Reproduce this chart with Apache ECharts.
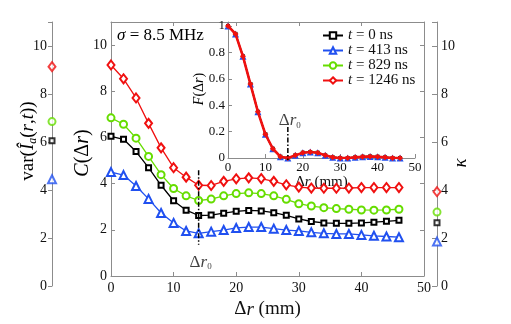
<!DOCTYPE html>
<html>
<head>
<meta charset="utf-8">
<script src="https://cdn.jsdelivr.net/npm/echarts@6/dist/echarts.min.js"></script>
<style>
html, body { margin: 0; padding: 0; background: #fff; }
#myChart { width: 511px; height: 324px; }
</style>
</head>
<body>
<div id="myChart"></div>
<script>
// separation (mm)
const dr = [0, 2, 4, 6, 8, 10, 12, 14, 16, 18, 20, 22, 24, 26, 28, 30, 32, 34, 36, 38, 40, 42, 44, 46];
const names = ['t = 0 ns', 't = 413 ns', 't = 829 ns', 't = 1246 ns'];
// C(dr) for each time
const c0 = [6.05, 5.92, 5.39, 4.69, 3.93, 3.26, 2.85, 2.62, 2.64, 2.72, 2.80, 2.84, 2.82, 2.74, 2.63, 2.47, 2.36, 2.30, 2.28, 2.28, 2.30, 2.33, 2.37, 2.41];
const c413 = [4.50, 4.37, 3.90, 3.34, 2.73, 2.30, 1.95, 1.85, 1.92, 1.99, 2.08, 2.12, 2.12, 2.05, 1.99, 1.95, 1.89, 1.85, 1.82, 1.82, 1.78, 1.74, 1.71, 1.68];
const c829 = [6.85, 6.57, 5.97, 5.18, 4.39, 3.79, 3.47, 3.27, 3.33, 3.47, 3.57, 3.60, 3.57, 3.47, 3.32, 3.13, 3.03, 2.96, 2.92, 2.89, 2.86, 2.85, 2.86, 2.89];
const c1246 = [9.14, 8.54, 7.71, 6.61, 5.55, 4.69, 4.28, 3.93, 3.92, 4.10, 4.21, 4.25, 4.22, 4.10, 3.95, 3.85, 3.81, 3.80, 3.80, 3.81, 3.83, 3.83, 3.83, 3.83];
// inset F(dr)
const f0 = [1.0, 0.94, 0.77, 0.56, 0.35, 0.18, 0.07, 0.01, 0.0, 0.02, 0.04, 0.045, 0.04, 0.02, 0.005, 0.0, 0.0, 0.005, 0.01, 0.012, 0.01, 0.005, 0.0, 0.0];
const f413 = [1.0, 0.94, 0.77, 0.56, 0.35, 0.18, 0.07, 0.01, 0.0, 0.02, 0.04, 0.045, 0.04, 0.02, 0.005, 0.0, 0.0, 0.005, 0.01, 0.012, 0.01, 0.005, 0.0, 0.0];
const f829 = [1.0, 0.94, 0.77, 0.56, 0.35, 0.18, 0.07, 0.01, 0.0, 0.02, 0.04, 0.045, 0.04, 0.02, 0.005, 0.0, 0.0, 0.005, 0.01, 0.012, 0.01, 0.005, 0.0, 0.0];
const f1246 = [1.0, 0.94, 0.77, 0.56, 0.35, 0.18, 0.07, 0.01, 0.0, 0.02, 0.04, 0.045, 0.04, 0.02, 0.005, 0.0, 0.0, 0.005, 0.01, 0.012, 0.01, 0.005, 0.0, 0.0];
// side axes: var(I) on the left, kappa on the right
const varI = [6.05, 4.45, 6.85, 9.14];
const kappa = [2.64, 1.85, 3.08, 3.93];
// dr0 markers
const r0Main = 14;
const r0MainSpan = [4.58, 1.35];
const r0Inset = 16;
const r0InsetSpan = [0.235, -0.015];

const colors = ['#000000', '#2050f0', '#66dd00', '#f01010'];
const mainData = [c0, c413, c829, c1246];
const insetData = [f0, f413, f829, f1246];
const emptySym = ['emptyRect', 'emptyTriangle', 'emptyCircle', 'emptyDiamond'];
const emptySize = [5, 8, 7, [7, 9]];
const fullSym = ['rect', 'triangle', 'circle', 'diamond'];
const fullSize = [4, 7, 4, 6];

const FONT = "'Liberation Serif', 'DejaVu Serif', serif";
const TXT = '#111';
const AX = '#8c8c8c';

let myChart = echarts.init(document.getElementById('myChart'));

function pairs(ys) { return dr.map((x, i) => [x, ys[i]]); }

const rich = {
  n: { fontFamily: FONT, color: TXT },
  i: { fontFamily: FONT, fontStyle: 'italic', color: TXT }
};
function sized(sz) {
  return { n: Object.assign({ fontSize: sz }, rich.n), i: Object.assign({ fontSize: sz }, rich.i) };
}

function axisBase(grid, extra) {
  return Object.assign({
    gridIndex: grid,
    type: 'value',
    axisLine: { show: true, onZero: false, lineStyle: { color: AX, width: 1 } },
    axisTick: { show: true, inside: true, length: 4, lineStyle: { color: AX } },
    splitLine: { show: false },
    axisLabel: { show: false }
  }, extra);
}

const series = [];
names.forEach((nm, k) => {
  series.push({
    name: nm, type: 'line', xAxisIndex: 0, yAxisIndex: 0,
    data: pairs(mainData[k]),
    symbol: emptySym[k], symbolSize: emptySize[k],
    itemStyle: { color: colors[k], borderWidth: 1.2 },
    lineStyle: { color: colors[k], width: 1.3 },
    z: 3
  });
});
names.forEach((nm, k) => {
  series.push({
    name: nm, type: 'line', xAxisIndex: 2, yAxisIndex: 2,
    data: pairs(insetData[k]),
    symbol: fullSym[k], symbolSize: fullSize[k],
    itemStyle: { color: colors[k] },
    lineStyle: { color: colors[k], width: k === 3 ? 2.6 : 1.5 },
    z: 4 + k
  });
});
names.forEach((nm, k) => {
  series.push({
    name: nm, type: 'scatter', xAxisIndex: 3, yAxisIndex: 3,
    data: [[0, varI[k]]], clip: false,
    symbol: emptySym[k], symbolSize: emptySize[k],
    itemStyle: { color: colors[k], borderWidth: 1.2 }
  });
  series.push({
    name: nm, type: 'scatter', xAxisIndex: 4, yAxisIndex: 4,
    data: [[1, kappa[k]]], clip: false,
    symbol: emptySym[k], symbolSize: emptySize[k],
    itemStyle: { color: colors[k], borderWidth: 1.2 }
  });
});
// dash-dot dr0 lines and their labels
series.push({
  type: 'line', xAxisIndex: 0, yAxisIndex: 0, silent: true, symbol: 'none',
  data: [[r0Main, r0MainSpan[0]], [r0Main, r0MainSpan[1]]],
  lineStyle: { color: '#000', width: 1.5, type: [5, 2, 1.5, 2] }, z: 8
});
series.push({
  type: 'line', xAxisIndex: 2, yAxisIndex: 2, silent: true, symbol: 'none', clip: false,
  data: [[r0Inset, r0InsetSpan[0]], [r0Inset, r0InsetSpan[1]]],
  lineStyle: { color: '#000', width: 1.5, type: [5, 2, 1.5, 2] }, z: 9
});
function r0Label(dy) {
  return {
    show: true, position: 'inside', offset: [2, dy],
    formatter: '{n|Δ}{i|r}{s|0}',
    rich: {
      n: { fontFamily: FONT, fontSize: 17, color: TXT },
      i: { fontFamily: FONT, fontSize: 17, fontStyle: 'italic', color: TXT },
      s: { fontFamily: FONT, fontSize: 9, color: TXT, padding: [9, 0, 0, 0] }
    }
  };
}
series.push({
  type: 'scatter', xAxisIndex: 0, yAxisIndex: 0, silent: true, symbolSize: 1,
  itemStyle: { color: 'rgba(0,0,0,0)' },
  data: [[r0Main, 0.95]], label: r0Label(8)
});
series.push({
  type: 'scatter', xAxisIndex: 2, yAxisIndex: 2, silent: true, symbolSize: 1, clip: false,
  itemStyle: { color: 'rgba(0,0,0,0)' },
  data: [[r0Inset, 0.29]], label: r0Label(1)
});

myChart.setOption({
  backgroundColor: '#fff',
  animation: false,
  grid: [
    { left: 111, top: 22, width: 313, height: 264 },
    { left: 228, top: 22, width: 187, height: 136 },
    { left: 52, top: 22, width: 1, height: 264 },
    { left: 436, top: 22, width: 1, height: 264 }
  ],
  legend: {
    data: names, orient: 'vertical', left: 317, top: 23,
    itemWidth: 20, itemHeight: 8, itemGap: 0,
    textStyle: { fontFamily: FONT, fontSize: 15, lineHeight: 11, color: TXT, rich: sized(15) },
    formatter: nm => '{i|t}{n|' + nm.slice(1) + '}'
  },
  xAxis: [
    axisBase(0, {
      min: 0, max: 50, interval: 10, position: 'bottom',
      axisLabel: { show: true, fontFamily: FONT, fontSize: 14, color: TXT, margin: 5 },
      name: '{n|Δ}{i|r}{n| (mm)}', nameLocation: 'middle', nameGap: 24,
      nameTextStyle: { fontSize: 19, rich: sized(19) }
    }),
    axisBase(0, { min: 0, max: 50, interval: 10, position: 'top' }),
    axisBase(1, {
      min: 0, max: 50, interval: 10, position: 'bottom',
      axisLabel: { show: true, fontFamily: FONT, fontSize: 13, color: TXT, margin: 3 },
      name: '{n|Δ}{i|r}{n| (mm)}', nameLocation: 'middle', nameGap: 15,
      nameTextStyle: { fontSize: 15, rich: sized(15) }
    }),
    axisBase(2, { min: 0, max: 1, show: false }),
    axisBase(3, { min: 0, max: 1, show: false })
  ],
  yAxis: [
    axisBase(0, {
      min: 0, max: 11, interval: 2, position: 'left',
      axisLabel: { show: true, fontFamily: FONT, fontSize: 14, color: TXT, margin: 4, formatter: v => v > 10 ? '' : v }
    }),
    axisBase(0, { min: 0, max: 11, interval: 2, position: 'right' }),
    axisBase(1, {
      min: 0, max: 1.03, interval: 0.2, position: 'left',
      axisLabel: {
        show: true, fontFamily: FONT, fontSize: 13, color: TXT, margin: 3,
        formatter: v => v > 1.01 ? '' : (v < 0.001 ? '0' : (v > 0.99 ? '1' : v.toFixed(1)))
      }
    }),
    axisBase(2, {
      min: 0, max: 11, interval: 2, position: 'left',
      axisTick: { show: true, inside: false, length: 4, lineStyle: { color: AX } },
      axisLabel: { show: true, fontFamily: FONT, fontSize: 14, color: TXT, margin: 5, formatter: v => v > 10 ? '' : v }
    }),
    axisBase(3, {
      min: 0, max: 11, interval: 2, position: 'right',
      axisTick: { show: true, inside: true, length: 5, lineStyle: { color: AX } },
      axisLabel: { show: true, fontFamily: FONT, fontSize: 14, color: TXT, margin: 4, formatter: v => v > 10 ? '' : v }
    })
  ],
  graphic: [
    {
      type: 'text', x: 117, y: 36,
      style: { text: '{i|σ}{n| = 8.5 MHz}', verticalAlign: 'middle', rich: sized(17) }
    },
    {
      type: 'text', x: 28, y: 141, rotation: Math.PI / 2,
      style: {
        text: '{n|var(}{i|Î}{s|a}{n|(}{i|r}{n|,}{i|t}{n|))}', align: 'center', verticalAlign: 'middle',
        rich: Object.assign(sized(19), { s: Object.assign({ fontSize: 12, padding: [9, 0, 0, 0] }, rich.i) })
      }
    },
    {
      type: 'text', x: 83, y: 153, rotation: Math.PI / 2,
      style: { text: '{i|C}{n|(Δ}{i|r}{n|)}', align: 'center', verticalAlign: 'middle', rich: sized(20) }
    },
    {
      type: 'text', x: 199, y: 89, rotation: Math.PI / 2,
      style: { text: '{i|F}{n|(Δ}{i|r}{n|)}', align: 'center', verticalAlign: 'middle', rich: sized(14) }
    },
    {
      type: 'text', x: 461, y: 163, rotation: Math.PI / 2,
      style: { text: '{i|κ}', align: 'center', verticalAlign: 'middle', rich: sized(19) }
    }
  ],
  series: series
});
</script>
</body>
</html>
